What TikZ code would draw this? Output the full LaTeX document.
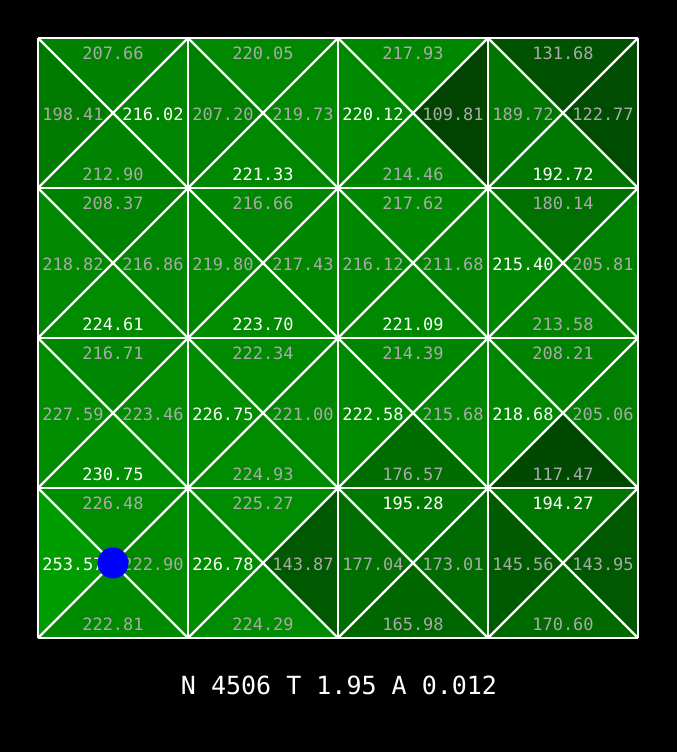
\documentclass[tikz,border=0pt]{standalone}
\usepackage{fontspec}
\newfontfamily\qmono{DejaVu Sans Mono}
\definecolor{qgray}{RGB}{170,170,170}
\tikzset{
  qline/.style={draw=white,line width=2.7pt},
  qdiag/.style={draw=white,line width=2.3pt},
  qval/.style={font=\qmono\fontsize{17}{17}\selectfont,inner sep=0pt},
  qinfo/.style={font=\qmono\fontsize{25}{25}\selectfont,inner sep=0pt,text=white},
  qagent/.style={circle,fill=blue,minimum size=31pt,inner sep=0pt}
}
\newcommand\qtxt[4]{%
  \pgfmathtruncatemacro\qw{(#4==\qm)?1:0}%
  \ifnum\qw=1 \def\qc{white}\else\def\qc{qgray}\fi
  \node[qval,text=\qc] (#1) at (#2,#3) {#4};%
}
\newcommand\qtri[4]{% corners a b c, value
  \pgfmathtruncatemacro\qg{round(0.62*#4)}%
  \definecolor{qfill}{RGB}{0,\qg,0}%
  \fill[qfill] #1 -- #2 -- #3 -- cycle;%
}
\def\qdata{0/0/207.66/198.41/216.02/212.90,
1/0/220.05/207.20/219.73/221.33,
2/0/217.93/220.12/109.81/214.46,
3/0/131.68/189.72/122.77/192.72,
0/1/208.37/218.82/216.86/224.61,
1/1/216.66/219.80/217.43/223.70,
2/1/217.62/216.12/211.68/221.09,
3/1/180.14/215.40/205.81/213.58,
0/2/216.71/227.59/223.46/230.75,
1/2/222.34/226.75/221.00/224.93,
2/2/214.39/222.58/215.68/176.57,
3/2/208.21/218.68/205.06/117.47,
0/3/226.48/253.57/222.90/222.81,
1/3/225.27/226.78/143.87/224.29,
2/3/195.28/177.04/173.01/165.98,
3/3/194.27/145.56/143.95/170.60}
\begin{document}
\begin{tikzpicture}[x=1pt,y=-1pt]
\fill[black] (0,0) rectangle (677,752);
\useasboundingbox (0,0) rectangle (677,752);
% fills
\foreach \c/\r/\t/\l/\ri/\b in \qdata {
  \pgfmathsetmacro\cx{113+150*\c}
  \pgfmathsetmacro\cy{113+150*\r}
  \pgfmathsetmacro\xa{\cx-75}
  \pgfmathsetmacro\xb{\cx+75}
  \pgfmathsetmacro\ya{\cy-75}
  \pgfmathsetmacro\yb{\cy+75}
  \qtri{(\xa,\ya)}{(\xb,\ya)}{(\cx,\cy)}{\t}
  \qtri{(\xa,\ya)}{(\xa,\yb)}{(\cx,\cy)}{\l}
  \qtri{(\xb,\ya)}{(\xb,\yb)}{(\cx,\cy)}{\ri}
  \qtri{(\xa,\yb)}{(\xb,\yb)}{(\cx,\cy)}{\b}
}
% grid lines
\foreach \k in {0,...,4} {
  \pgfmathsetmacro\p{38+150*\k}
  \draw[qline] (\p,38) -- (\p,638);
  \draw[qline] (38,\p) -- (638,\p);
}
\foreach \c in {0,...,3} {
  \foreach \r in {0,...,3} {
    \pgfmathsetmacro\xa{38+150*\c}
    \pgfmathsetmacro\xb{188+150*\c}
    \pgfmathsetmacro\ya{38+150*\r}
    \pgfmathsetmacro\yb{188+150*\r}
    \draw[qdiag] (\xa,\ya) -- (\xb,\yb);
    \draw[qdiag] (\xb,\ya) -- (\xa,\yb);
  }
}
% texts
\foreach \c/\r/\t/\l/\ri/\b in \qdata {
  \pgfmathsetmacro\cx{113+150*\c}
  \pgfmathsetmacro\cy{113+150*\r}
  \pgfmathsetmacro\qm{max(\t,\l,\ri,\b)}
  \pgfmathsetmacro\xl{\cx-40}
  \pgfmathsetmacro\xr{\cx+40}
  \pgfmathsetmacro\yt{\cy-60}
  \pgfmathsetmacro\ym{\cy+1}
  \pgfmathsetmacro\ybt{\cy+61.5}
  \qtxt{t-\c-\r}{\cx}{\yt}{\t}
  \qtxt{l-\c-\r}{\xl}{\ym}{\l}
  \qtxt{r-\c-\r}{\xr}{\ym}{\ri}
  \qtxt{b-\c-\r}{\cx}{\ybt}{\b}
}
\node[qagent] (agent) at (113,563) {};
\node[qinfo] (info) at (339,685) {N 4506 T 1.95 A 0.012};
\end{tikzpicture}
\end{document}
